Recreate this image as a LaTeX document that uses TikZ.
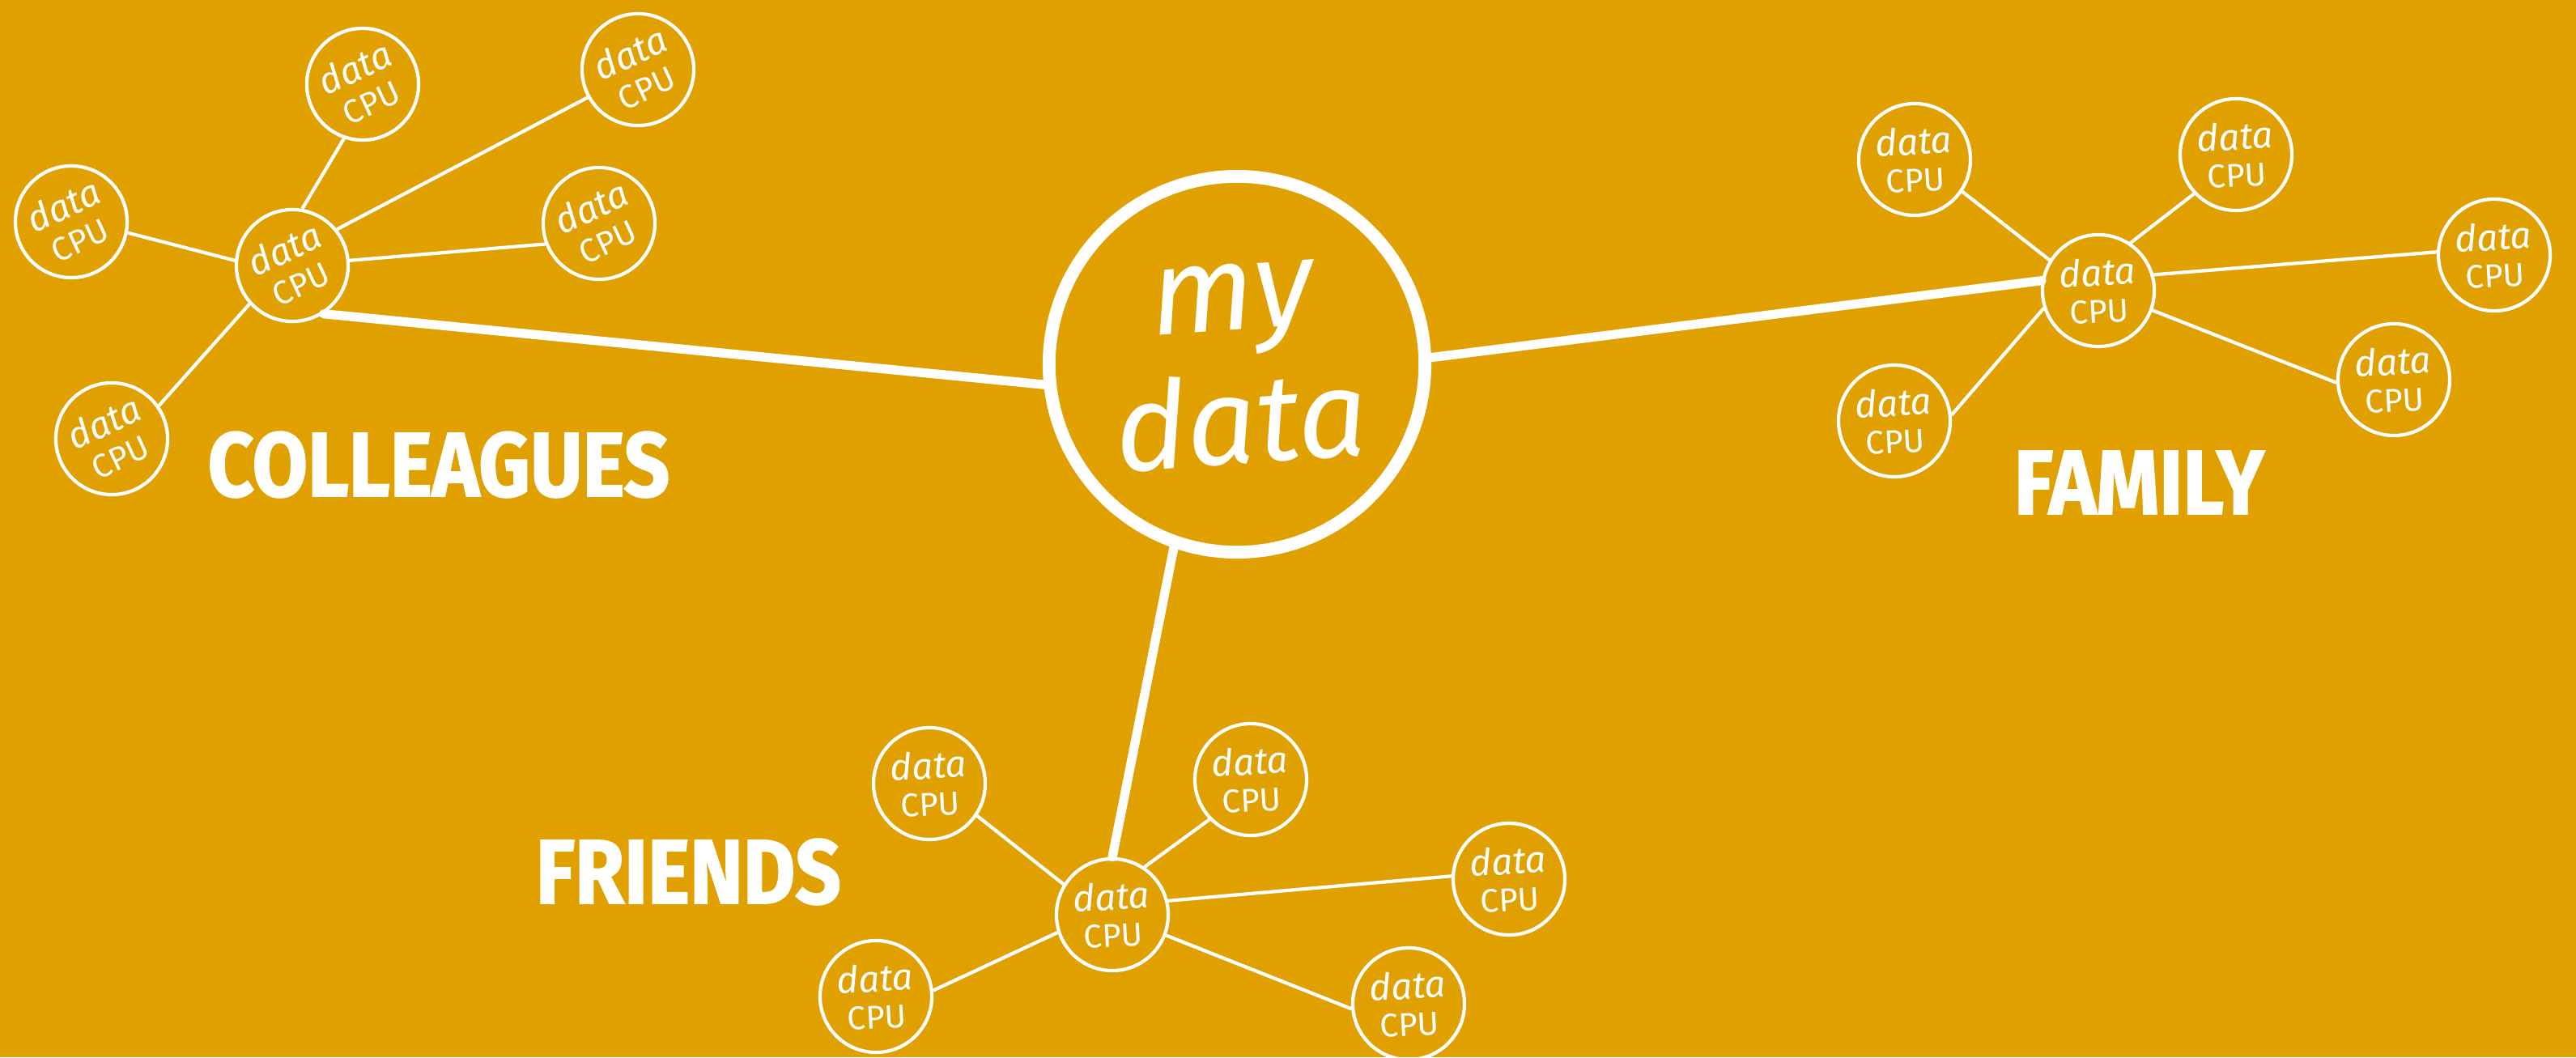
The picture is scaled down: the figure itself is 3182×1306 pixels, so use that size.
\documentclass[tikz,border=0pt]{standalone}
\usepackage{fontspec}
\setmainfont{Fira Sans}
\newfontfamily\groupfont[FakeStretch=0.88,FakeBold=1.5]{Fira Sans}
\definecolor{gold}{HTML}{E0A000}
\tikzset{
  dnode/.style={circle, draw=white, line width=1.2pt, minimum size=1.38cm, inner sep=0pt,
    label={[dtext, rotate=#1]center:{\itshape data}\\{\fontsize{11.5}{12}\selectfont CPU}}},
  dtext/.style={text=white, align=center, inner sep=0pt, font=\fontsize{13}{13}\selectfont},
  core/.style={circle, draw=white, line width=4.5pt, minimum size=4.64cm, inner sep=0pt,
    label={[mtext, rotate=4]center:my\\data}},
  mtext/.style={text=white, align=center, inner sep=0pt, font=\fontsize{43}{47}\selectfont\itshape},
  twig/.style={draw=white, line width=1.2pt},
  trunk/.style={draw=white, line width=3.2pt, line cap=round},
  group/.style={text=white, anchor=base west, inner sep=0pt, font=\groupfont\bfseries\fontsize{32}{32}\selectfont}
}

\begin{document}
\begin{tikzpicture}[x=0.01cm, y=-0.01cm]
  \fill[gold] (0,0) rectangle (3182,1306);
  \useasboundingbox (0,0) rectangle (3182,1306);

  \node[core] (M) at (1528,450) {};

  \node[dnode=25] (C0) at (361,328) {};
  \node[dnode=25] (C1) at (448,104) {};
  \node[dnode=25] (C2) at (788,86) {};
  \node[dnode=25] (C3) at (740,276) {};
  \node[dnode=25] (C4) at (88,274) {};
  \node[dnode=25] (C5) at (138,542) {};

  \node[dnode=3] (F0) at (2592,359) {};
  \node[dnode=3] (F1) at (2365,197) {};
  \node[dnode=3] (F2) at (2762,191) {};
  \node[dnode=3] (F3) at (3081,315) {};
  \node[dnode=3] (F4) at (2957,469) {};
  \node[dnode=3] (F5) at (2340,520) {};

  \node[dnode=3] (R0) at (1374,1130) {};
  \node[dnode=3] (R1) at (1148,968) {};
  \node[dnode=3] (R2) at (1545,963) {};
  \node[dnode=3] (R3) at (1864,1086) {};
  \node[dnode=3] (R4) at (1740,1240) {};
  \node[dnode=3] (R5) at (1082,1231) {};

  \node[group] (Lc) at (256,613) {COLLEAGUES};
  \node[group] (Lf) at (2487,635) {FAMILY};
  \node[group] (Lr) at (661,1116) {FRIENDS};

  \draw[twig] (C0.80) -- (C1.251);
  \draw[twig] (C0.39) -- (C2.209);
  \draw[twig] (C0.5) -- (C3.201);
  \draw[twig] (C0.175) -- (C4.349);
  \draw[twig] (C0.222) -- (C5.35);

  \draw[twig] (F0.148) -- (F1.326);
  \draw[twig] (F0.56) -- (F2.223);
  \draw[twig] (F0.16) -- (F3.177);
  \draw[twig] (F0.340) -- (F4.183);
  \draw[twig] (F0.198) -- (F5.6);

  \draw[twig] (R0.148) -- (R1.326);
  \draw[twig] (R0.56) -- (R2.224);
  \draw[twig] (R0.14) -- (R3.177);
  \draw[twig] (R0.339) -- (R4.185);
  \draw[twig] (R0.198) -- (R5.6);

  \draw[trunk] (C0.-57) -- (M.186);
  \draw[trunk] (M.2) -- (F0.170);
  \draw[trunk] (M.251) -- (R0.90);
\end{tikzpicture}
\end{document}
